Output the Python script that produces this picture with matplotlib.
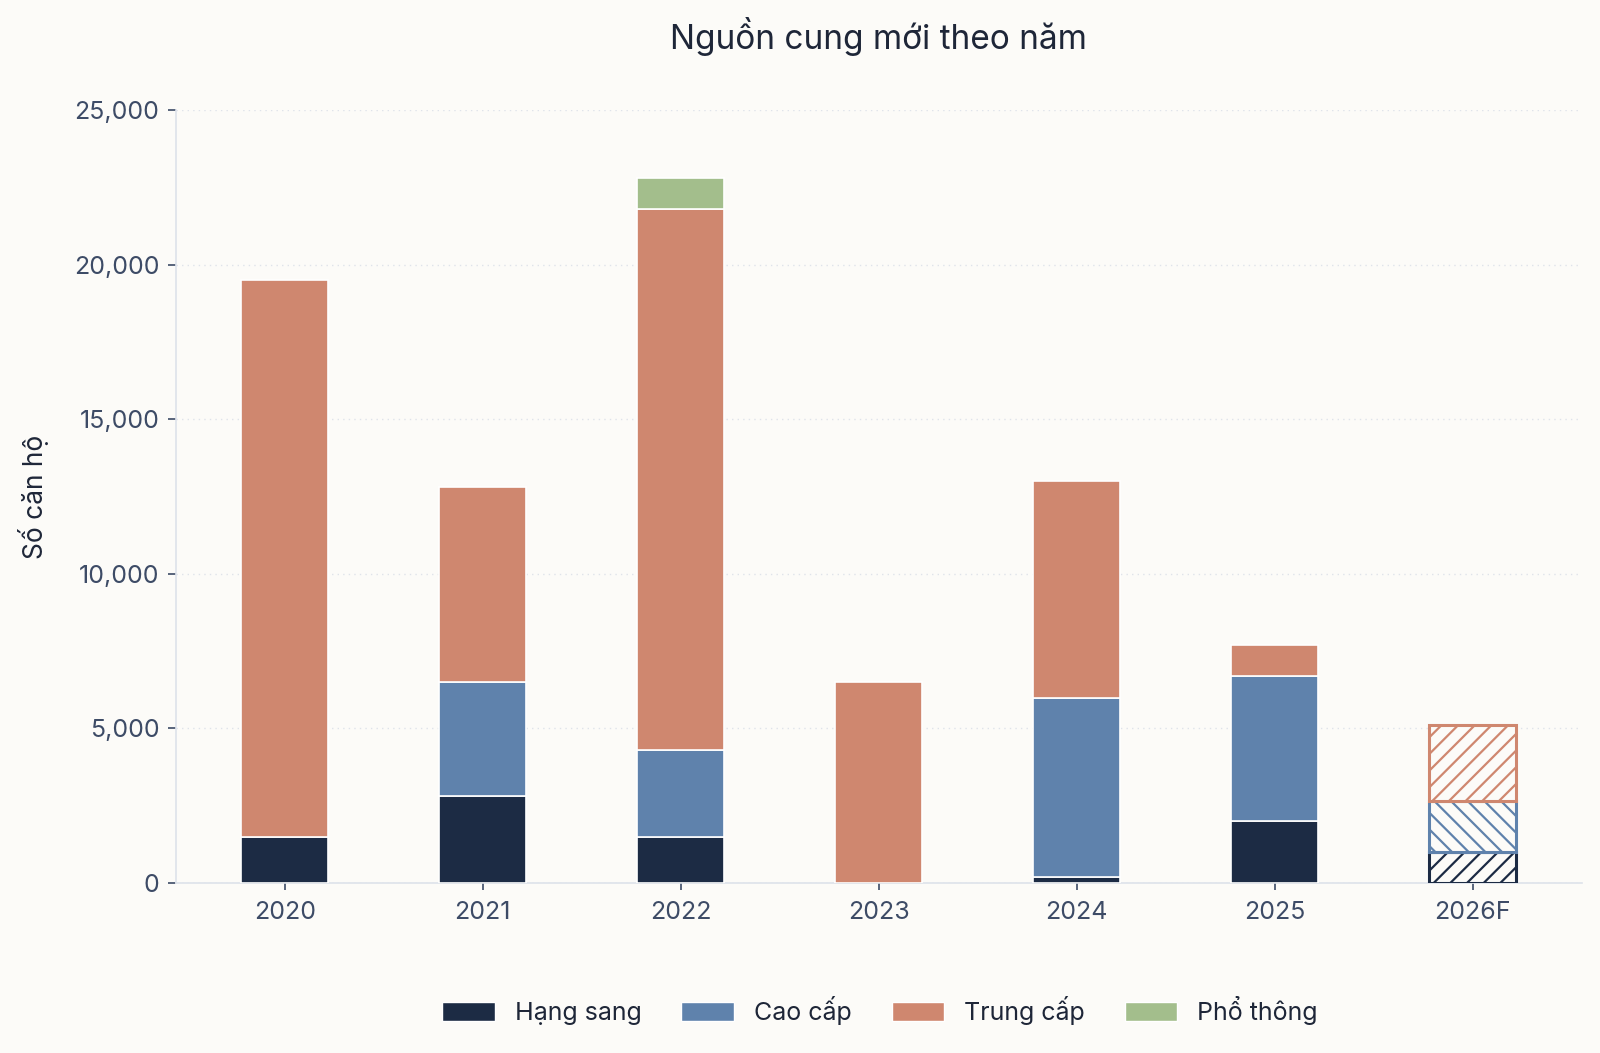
import numpy as np
import matplotlib.pyplot as plt
from matplotlib.patches import Patch

plt.rcParams['font.family'] = ['Inter', 'DejaVu Sans']
plt.rcParams['hatch.linewidth'] = 1.6

years = ["2020", "2021", "2022", "2023", "2024", "2025", "2026F"]
hang_sang = [1500, 2800, 1500, 0, 200, 2000, 1000]
cao_cap = [0, 3700, 2800, 0, 5800, 4700, 1650]
trung_cap = [18000, 6300, 17500, 6500, 7000, 1000, 2450]
pho_thong = [0, 0, 1000, 0, 0, 0, 0]

series = [("Hạng sang", hang_sang, "#1c2b44", "//"),
          ("Cao cấp", cao_cap, "#5f82ac", "\\\\"),
          ("Trung cấp", trung_cap, "#cf876f", "//"),
          ("Phổ thông", pho_thong, "#a3be8c", "//")]

bg = "#fcfbf8"
txt = "#3d4b66"
fig = plt.figure(figsize=(16, 10.53), dpi=100, facecolor=bg)
ax = fig.add_axes([0.110, 0.1614, 0.8785, 0.7341], facecolor=bg)

x = np.arange(len(years))
w = 0.44
bottom = np.zeros(len(years))
handles = []
for name, vals, col, hatch in series:
    vals = np.array(vals, dtype=float)
    for i in range(len(years)):
        if vals[i] <= 0:
            continue
        if years[i].endswith("F"):
            ax.bar(x[i], vals[i], w, bottom=bottom[i], facecolor=bg,
                   edgecolor=col, hatch=hatch, linewidth=2.2, zorder=3)
        else:
            ax.bar(x[i], vals[i], w, bottom=bottom[i], color=col,
                   edgecolor="white", linewidth=1.2, zorder=3)
    bottom += vals
    handles.append(Patch(facecolor=col, edgecolor="white", label=name))

ax.set_xlim(-0.55, len(years) - 0.45)
ax.set_ylim(0, 25000)
ax.set_yticks(np.arange(0, 25001, 5000))
ax.yaxis.set_major_formatter(plt.FuncFormatter(lambda v, p: f"{int(v):,}"))
ax.set_xticks(x)
ax.set_xticklabels(years)
ax.grid(axis="y", linestyle=(0, (1, 3)), color="#dfe3ea", linewidth=1.0, zorder=0)

for s in ["top", "right"]:
    ax.spines[s].set_visible(False)
for s in ["left", "bottom"]:
    ax.spines[s].set_color("#dde2ea")
    ax.spines[s].set_linewidth(1.2)

ax.tick_params(axis="both", colors=txt, labelsize=18, length=6, width=1.2, pad=6)
ax.tick_params(axis="x", length=5, pad=8)

ax.set_ylabel("Số căn hộ", fontsize=19, color="#1e2638", labelpad=18)
ax.set_title("Nguồn cung mới theo năm", fontsize=24, color="#1e2638", pad=44)

fig.legend(handles=handles, loc="center", bbox_to_anchor=(0.55, 0.04), ncol=4,
           frameon=False, fontsize=18, handlelength=2.1, handleheight=0.8,
           columnspacing=1.6, handletextpad=0.8, labelcolor="#1e2638")

plt.savefig("out.png", dpi=100, facecolor=bg)
